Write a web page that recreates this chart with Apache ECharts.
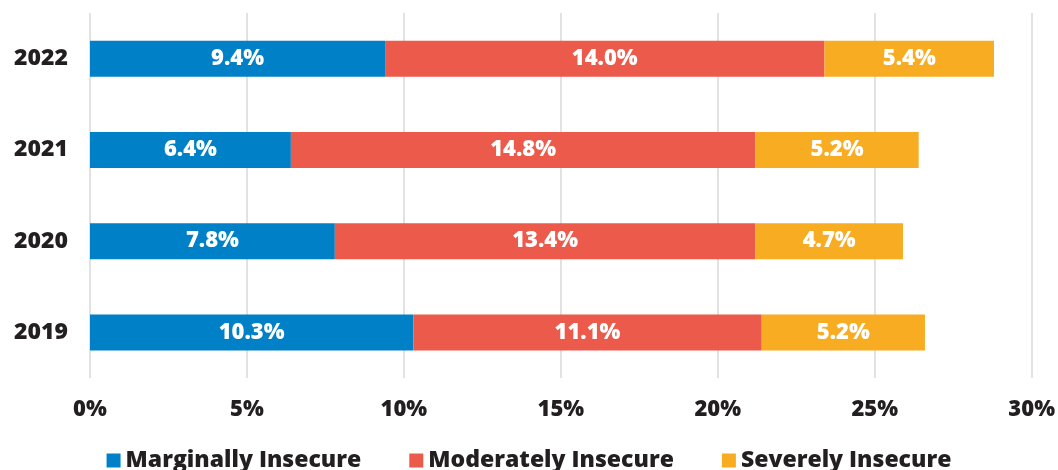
<!DOCTYPE html>
<html>
<head>
<meta charset="utf-8">
<script src="https://cdn.jsdelivr.net/npm/echarts@6/dist/echarts.min.js"></script>
<style>html,body{margin:0;padding:0;background:#fff}#c{width:1058px;height:470px}</style>
</head>
<body>
<div id="c"></div>
<script>
const categories = ['2019', '2020', '2021', '2022'];
const marginally = [10.3, 7.8, 6.4, 9.4];
const moderately = [11.1, 13.4, 14.8, 14.0];
const severely = [5.2, 4.7, 5.2, 5.4];
const seriesNames = ['Marginally Insecure', 'Moderately Insecure', 'Severely Insecure'];
const colors = ['#0080C6', '#EB5A4B', '#F7AC22'];
const FONT = '"Open Sans", sans-serif';

const chart = echarts.init(document.getElementById('c'));
const mk = (name, data, color) => ({
  name, type: 'bar', stack: 'total', data, barWidth: 36,
  itemStyle: { color },
  label: {
    show: true, position: 'inside', color: '#fff', fontFamily: FONT,
    fontWeight: 800, fontSize: 22,
    formatter: p => p.value.toFixed(1) + '%'
  }
});
chart.setOption({
  animation: false,
  color: colors,
  textStyle: { fontFamily: FONT },
  grid: { left: 90, right: 25, top: 13, bottom: 92 },
  xAxis: {
    type: 'value', min: 0, max: 30, interval: 5,
    axisLine: { show: false }, axisTick: { show: false },
    splitLine: { lineStyle: { color: '#d9d9d9', width: 1.5 } },
    axisLabel: { formatter: v => v + '%', color: '#231F20', fontFamily: FONT, fontWeight: 800, fontSize: 22, margin: 21 }
  },
  yAxis: {
    type: 'category', data: categories,
    axisLine: { show: false }, axisTick: { show: false },
    axisLabel: { color: '#231F20', fontFamily: FONT, fontWeight: 800, fontSize: 23, margin: 22 }
  },
  legend: {
    top: 444, left: 'center', icon: 'rect', itemWidth: 14, itemHeight: 14, itemGap: 48,
    textStyle: { color: '#231F20', fontFamily: FONT, fontWeight: 800, fontSize: 23 },
    data: seriesNames
  },
  series: [
    mk(seriesNames[0], marginally, colors[0]),
    mk(seriesNames[1], moderately, colors[1]),
    mk(seriesNames[2], severely, colors[2])
  ]
});
</script>
</body>
</html>
